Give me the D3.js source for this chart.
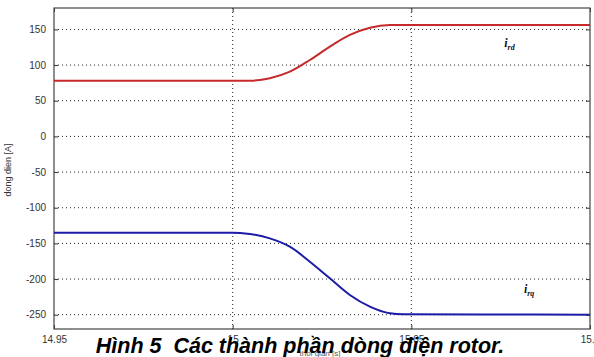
<!DOCTYPE html>
<html>
<head>
<meta charset="utf-8">
<script src="https://cdn.jsdelivr.net/npm/d3@7"></script>
<style>
  body { margin: 0; background: #fff; }
  svg { display: block; font-family: "Liberation Sans", Arial, sans-serif; }
</style>
</head>
<body>
<script>
// time samples and currents
var timeRd = [14.95, 15.0, 15.0049, 15.0076, 15.0104, 15.016, 15.0216, 15.0272, 15.0328, 15.0384, 15.044, 15.05, 15.1];
var currentRd = [78, 78, 78.1, 78.9, 81.4, 90.7, 107.1, 125.8, 142.2, 152.4, 156, 156, 156];

var timeRq = [14.95, 15.0, 15.0021, 15.0049, 15.0104, 15.016, 15.0216, 15.0272, 15.0328, 15.0384, 15.044, 15.0477, 15.07, 15.1];
var currentRq = [-135, -135, -135.3, -136.8, -142.9, -154.6, -175.6, -199, -222.4, -238.7, -248, -249.4, -249.6, -250];

var yTicks = [-250, -200, -150, -100, -50, 0, 50, 100, 150];
var xTicks = [14.95, 15, 15.05, 15.1];
var xTickLabels = ["14.95", "15", "15.05", "15.1"];

var width = 594, height = 357;
var plot = {left: 54, right: 590, top: 8, bottom: 329};

var x = d3.scaleLinear().domain([14.95, 15.1]).range([plot.left, plot.right]);
var y = d3.scaleLinear().domain([-270, 180]).range([plot.bottom, plot.top]);

var svg = d3.select("body").append("svg")
    .attr("width", width)
    .attr("height", height);

// grid lines (dotted)
svg.append("g")
  .selectAll("line")
  .data(yTicks)
  .enter().append("line")
    .attr("x1", plot.left).attr("x2", plot.right)
    .attr("y1", function(d) { return y(d); })
    .attr("y2", function(d) { return y(d); })
    .attr("stroke", "#222")
    .attr("stroke-width", 1)
    .attr("stroke-dasharray", "1,3");

svg.append("g")
  .selectAll("line")
  .data([15, 15.05])
  .enter().append("line")
    .attr("x1", function(d) { return x(d); })
    .attr("x2", function(d) { return x(d); })
    .attr("y1", plot.top).attr("y2", plot.bottom)
    .attr("stroke", "#222")
    .attr("stroke-width", 1)
    .attr("stroke-dasharray", "1,3");

// axes
svg.append("g")
    .attr("transform", "translate(" + plot.left + ",0)")
    .call(d3.axisLeft(y).tickValues(yTicks).tickSize(-4).tickPadding(8)
      .tickFormat(function(d) { return String(d); }))
    .call(function(g) {
      g.select(".domain").remove();
      g.selectAll("text").attr("font-size", 10).attr("fill", "#333");
      g.selectAll("line").attr("stroke", "#333");
    });

svg.append("g")
    .attr("transform", "translate(" + plot.right + ",0)")
    .call(d3.axisRight(y).tickValues(yTicks).tickSize(-4).tickFormat(""))
    .call(function(g) {
      g.select(".domain").remove();
      g.selectAll("line").attr("stroke", "#333");
    });

svg.append("g")
    .attr("transform", "translate(0," + plot.bottom + ")")
    .call(d3.axisBottom(x).tickValues(xTicks).tickSize(-4).tickPadding(7)
      .tickFormat(function(d, i) { return xTickLabels[i]; }))
    .call(function(g) {
      g.select(".domain").remove();
      g.selectAll("text").attr("font-size", 10).attr("fill", "#333");
      g.selectAll("line").attr("stroke", "#333");
    });

svg.append("g")
    .attr("transform", "translate(0," + plot.top + ")")
    .call(d3.axisTop(x).tickValues(xTicks).tickSize(-4).tickFormat(""))
    .call(function(g) {
      g.select(".domain").remove();
      g.selectAll("line").attr("stroke", "#333");
    });

// box
svg.append("rect")
    .attr("x", plot.left).attr("y", plot.top)
    .attr("width", plot.right - plot.left)
    .attr("height", plot.bottom - plot.top)
    .attr("fill", "none")
    .attr("stroke", "#444")
    .attr("stroke-width", 1.2);

// the two currents
var lineRd = d3.line()
    .x(function(d, i) { return x(timeRd[i]); })
    .y(function(d) { return y(d); })
    .curve(d3.curveMonotoneX);

var lineRq = d3.line()
    .x(function(d, i) { return x(timeRq[i]); })
    .y(function(d) { return y(d); })
    .curve(d3.curveMonotoneX);

svg.append("path")
    .datum(currentRd)
    .attr("fill", "none")
    .attr("stroke", "#c62a2a")
    .attr("stroke-width", 2)
    .attr("d", lineRd);

svg.append("path")
    .datum(currentRq)
    .attr("fill", "none")
    .attr("stroke", "#1c1ca8")
    .attr("stroke-width", 2)
    .attr("d", lineRq);

// series labels
function seriesLabel(tx, ty, sub) {
  var t = svg.append("text")
      .attr("x", x(tx)).attr("y", y(ty))
      .attr("font-family", "'Liberation Serif', 'Times New Roman', serif")
      .attr("font-style", "italic")
      .attr("font-weight", "bold")
      .attr("font-size", 12)
      .attr("fill", "#111");
  t.append("tspan").text("i");
  t.append("tspan").attr("dy", 3).attr("font-size", 8).text(sub);
}
seriesLabel(15.076, 126, "rd");
seriesLabel(15.0815, -220, "rq");

// axis labels
svg.append("text")
    .attr("transform", "translate(11,170) rotate(-90)")
    .attr("text-anchor", "middle")
    .attr("font-size", 9)
    .attr("fill", "#333")
    .text("dong dien [A]");

svg.append("text")
    .attr("x", 320).attr("y", 356)
    .attr("text-anchor", "middle")
    .attr("font-size", 8)
    .attr("fill", "#555")
    .text("thoi gian [s]");

// caption
svg.append("text")
    .attr("x", 300).attr("y", 353)
    .attr("text-anchor", "middle")
    .attr("font-size", 21.5)
    .attr("font-weight", "bold")
    .attr("font-style", "italic")
    .attr("fill", "#000")
    .style("white-space", "pre")
    .text("Hình 5  Các thành phần dòng điện rotor.");
</script>
</body>
</html>
